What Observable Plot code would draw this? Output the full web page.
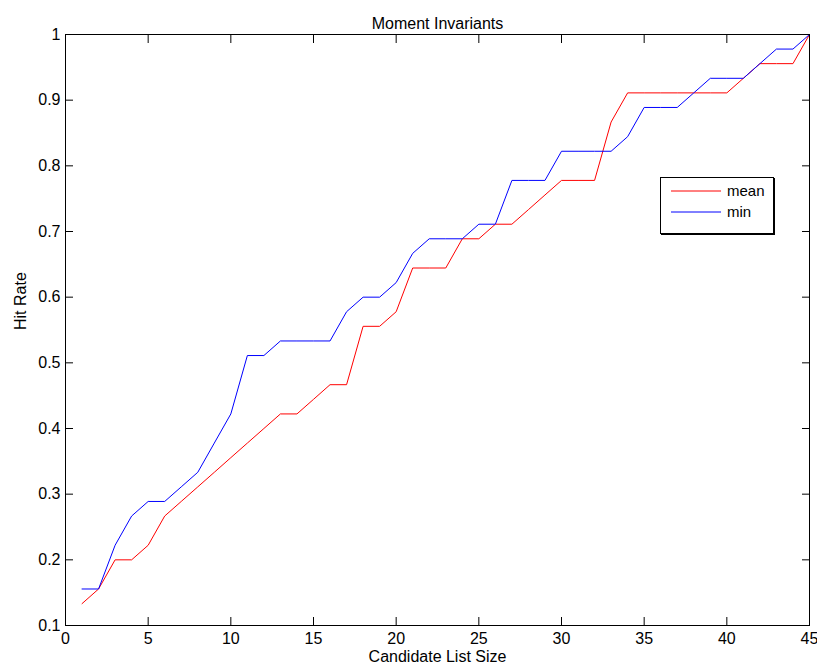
<!DOCTYPE html>
<html>
<head>
<meta charset="utf-8">
<script src="https://cdn.jsdelivr.net/npm/d3@7"></script>
<script src="https://cdn.jsdelivr.net/npm/@observablehq/plot@0.6"></script>
<style>
  body { margin: 0; background: #fff; }
  #chart { position: relative; width: 817px; height: 669px; }
  .legend {
    position: absolute; left: 660px; top: 177px; width: 112px; height: 55px;
    border: 1px solid #000; box-shadow: 1px 1px 0 #000; background: #fff;
    font: 15px "Liberation Sans", Arial, sans-serif; color: #000;
  }
  .legend .row { position: absolute; left: 0; height: 20px; width: 112px; }
  .legend svg { position: absolute; left: 10px; top: 0; }
  .legend span { position: absolute; left: 66px; top: 0; line-height: 20px; }
</style>
</head>
<body>
<div id="chart"></div>
<script>
// Candidate list sizes (x) and hit rates for the two distance rules
const listSize = [1, 2, 3, 4, 5, 6, 7, 8, 9, 10, 11, 12, 13, 14, 15, 16, 17, 18, 19, 20,
  21, 22, 23, 24, 25, 26, 27, 28, 29, 30, 31, 32, 33, 34, 35, 36, 37, 38, 39, 40,
  41, 42, 43, 44, 45];

const meanRate = [0.1333, 0.1556, 0.2, 0.2, 0.2222, 0.2667, 0.2889, 0.3111, 0.3333, 0.3556,
  0.3778, 0.4, 0.4222, 0.4222, 0.4444, 0.4667, 0.4667, 0.5556, 0.5556, 0.5778,
  0.6444, 0.6444, 0.6444, 0.6889, 0.6889, 0.7111, 0.7111, 0.7333, 0.7556, 0.7778,
  0.7778, 0.7778, 0.8667, 0.9111, 0.9111, 0.9111, 0.9111, 0.9111, 0.9111, 0.9111,
  0.9333, 0.9556, 0.9556, 0.9556, 1];

const minRate = [0.1556, 0.1556, 0.2222, 0.2667, 0.2889, 0.2889, 0.3111, 0.3333, 0.3778, 0.4222,
  0.5111, 0.5111, 0.5333, 0.5333, 0.5333, 0.5333, 0.5778, 0.6, 0.6, 0.6222,
  0.6667, 0.6889, 0.6889, 0.6889, 0.7111, 0.7111, 0.7778, 0.7778, 0.7778, 0.8222,
  0.8222, 0.8222, 0.8222, 0.8444, 0.8889, 0.8889, 0.8889, 0.9111, 0.9333, 0.9333,
  0.9333, 0.9556, 0.9778, 0.9778, 1];

const seriesNames = ["mean", "min"];
const seriesColors = ["#ff0000", "#0000ff"];

const xTicks = [0, 5, 10, 15, 20, 25, 30, 35, 40, 45];
const yTicks = [0.1, 0.2, 0.3, 0.4, 0.5, 0.6, 0.7, 0.8, 0.9, 1];

const titleText = "Moment Invariants";
const xLabel = "Candidate List Size";
const yLabel = "Hit Rate";

// Long-format table for the line mark
const rows = listSize.flatMap((x, i) => [
  {size: x, rate: meanRate[i], series: seriesNames[0]},
  {size: x, rate: minRate[i], series: seriesNames[1]}
]);

const fontFamily = '"Liberation Sans", Arial, Helvetica, sans-serif';
const blank = () => "";

const chart = Plot.plot({
  width: 817,
  height: 669,
  marginLeft: 65,
  marginRight: 8,
  marginTop: 34,
  marginBottom: 44,
  style: {fontFamily, fontSize: "16px", color: "#000", background: "#fff", overflow: "visible"},
  x: {domain: [0, 45]},
  y: {domain: [0.1, 1]},
  color: {domain: seriesNames, range: seriesColors},
  marks: [
    Plot.line(rows, {x: "size", y: "rate", z: "series", stroke: "series", strokeWidth: 1}),
    // tick labels
    Plot.axisX(xTicks, {tickSize: 0, tickPadding: 7, label: null, fontSize: 16}),
    Plot.axisY(yTicks, {tickSize: 0, tickPadding: 5, tickFormat: d => String(d), label: null, fontSize: 16}),
    // inward tick marks on all four sides
    Plot.axisX(xTicks, {tickSize: -8, tickFormat: blank, label: null}),
    Plot.axisX(xTicks, {anchor: "top", tickSize: -8, tickFormat: blank, label: null}),
    Plot.axisY(yTicks, {tickSize: -8, tickFormat: blank, label: null}),
    Plot.axisY(yTicks, {anchor: "right", tickSize: -8, tickFormat: blank, label: null}),
    Plot.frame({stroke: "#000", strokeWidth: 1}),
    Plot.text([titleText], {frameAnchor: "top", dy: -17, fontSize: 16}),
    Plot.text([xLabel], {frameAnchor: "bottom", dy: 36, fontSize: 16}),
    Plot.text([yLabel], {frameAnchor: "left", dx: -45, rotate: -90, fontSize: 16})
  ]
});

const holder = document.getElementById("chart");
holder.appendChild(chart);

// Legend box
const legend = d3.select(holder).append("div").attr("class", "legend");
seriesNames.forEach((name, i) => {
  const row = legend.append("div").attr("class", "row").style("top", `${3 + i * 21}px`);
  const svg = row.append("svg").attr("width", 50).attr("height", 20);
  svg.append("line").attr("x1", 0).attr("x2", 50).attr("y1", 10).attr("y2", 10)
    .attr("stroke", seriesColors[i]).attr("stroke-width", 1);
  row.append("span").text(name);
});
</script>
</body>
</html>
